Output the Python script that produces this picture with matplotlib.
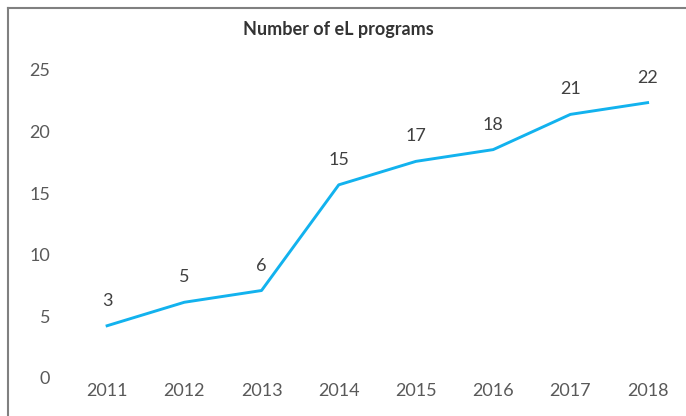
import matplotlib
matplotlib.use("Agg")
import matplotlib.pyplot as plt
from matplotlib.lines import Line2D

# data
years = ["2011", "2012", "2013", "2014", "2015", "2016", "2017", "2018"]
programs = [3, 5, 6, 15, 17, 18, 21, 22]
y_ticks = [0, 5, 10, 15, 20, 25]

plt.rcParams["font.family"] = ["Lato", "DejaVu Sans"]

W, H = 686, 416
fig = plt.figure(figsize=(W / 100, H / 100), dpi=100)

# axes box in pixels (from the top-left corner of the picture)
left, right, top, bottom = 60, 670, 70, 378
rect = [left / W, 1 - bottom / H, (right - left) / W, (bottom - top) / H]

# the printed tick labels sit a bit lower than the plotted scale,
# so the labels live on their own axes over the data axes
ax_lab = fig.add_axes(rect)
ax = fig.add_axes(rect, sharex=ax_lab)
ax.patch.set_alpha(0)

x = list(range(len(years)))
ax.plot(x, programs, color="#12b2ee", linewidth=2.1, solid_joinstyle="round")
for xi, v in zip(x, programs):
    ax.annotate(str(v), (xi, v), xytext=(0, 18), textcoords="offset points",
                ha="center", va="center", fontsize=13, color="#404040")

ax.set_ylim(-1.45, 24.78)
ax.set_xlim(-0.61, 7.29)
ax.set_yticks([])
ax.tick_params(axis="x", length=0, labelbottom=False)

ax_lab.set_ylim(0, 25)
ax_lab.set_yticks(y_ticks)
ax_lab.set_xticks(x)
ax_lab.set_xticklabels(years)
ax_lab.tick_params(axis="both", length=0, labelsize=13, labelcolor="#595959")
ax_lab.tick_params(axis="y", pad=7)
ax_lab.tick_params(axis="x", pad=3.5)
for a in (ax, ax_lab):
    for s in a.spines.values():
        s.set_visible(False)

fig.text(338 / W, 1 - 30 / H, "Number of eL programs", ha="center", va="center",
         fontsize=13, fontweight="bold", color="#333333")

# picture frame on the left and top edges
fig.add_artist(Line2D([7.5 / W, 7.5 / W], [0, 1 - 7.5 / H], color="#808080",
                      linewidth=1.5, transform=fig.transFigure))
fig.add_artist(Line2D([7.5 / W, 1], [1 - 7.5 / H, 1 - 7.5 / H], color="#808080",
                      linewidth=1.5, transform=fig.transFigure))

fig.savefig("out.png", dpi=100)
